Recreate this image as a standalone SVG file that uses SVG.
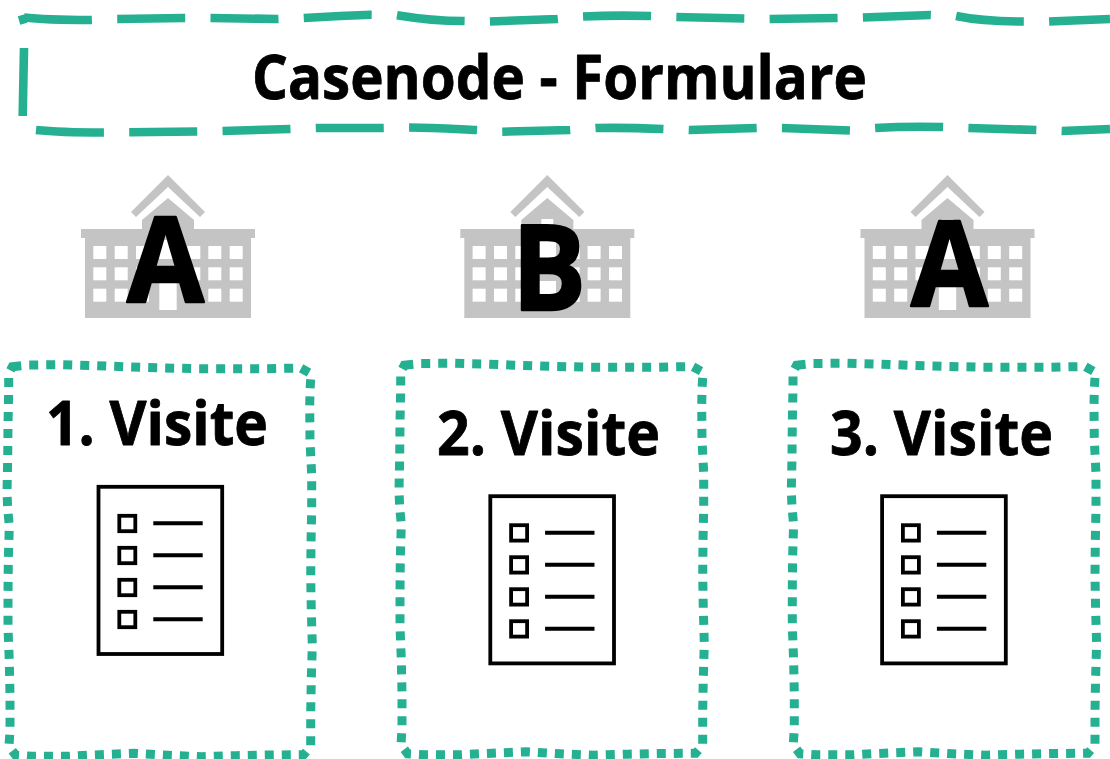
<svg xmlns="http://www.w3.org/2000/svg" xmlns:xlink="http://www.w3.org/1999/xlink" width="1110" height="759" viewBox="0 0 1110 759">
<style>
text{font-family:"Open Sans","Noto Sans","Liberation Sans",sans-serif;font-weight:700;fill:#000;stroke:#000;stroke-linejoin:round}
.title{font-size:60px;stroke-width:.8px}
.visit{font-size:60px;stroke-width:.8px}
.letter{font-size:118px;stroke-width:2.4px}
.dash{fill:none;stroke:#26b092;stroke-width:8.6}
.dot{fill:none;stroke:#26b092;stroke-width:9;stroke-dasharray:9 8}
.bld{fill:#c4c4c4}
.win{fill:#fff}
.ico{fill:none;stroke:#000;stroke-width:3.8}
.ln{fill:none;stroke:#000;stroke-width:4}
</style>
<defs>
<path id="dotbox" class="dot" d="M12.3,366.7 L29,365 L63,364.7 L97,365.7 L131,367 L165,368 L199,368.7 L267,368.7 L300.7,368 L311,373.7 L310,390.7 L309.7,407 L310,441.7 L311.7,475 L311.7,509 L311,543 L310.7,577 L311.3,610.7 L312.3,644.7 L311.3,679 L310.7,712.7 L310.7,746.7 L303.7,754.7 L270,755 L236,755.7 L202,756.7 L168.3,755.3 L134.3,753.3 L100.3,754.7 L66.7,756.3 L32.7,756.3 L15.7,755.3 L9,746.3 L10,729.7 L10,695.3 L9.3,661.3 L8,627.7 L8,594 L8.3,560 L9.3,526 L7.7,509 L7,492 L7.7,458 L8,424 L8.7,390.3 L8.7,373.7 Z"/>
<g id="building">
<path class="bld" d="M168,175 L205,212 L200,217 L168,187 L136,217 L131,212 Z"/>
<path class="bld" d="M168,198 L194,220 L194,229 L255,229 L255,238 L251,238 L251,318 L85,318 L85,238 L81,238 L81,229 L142,229 L142,220 Z"/>
<g class="win">
<rect x="93.3" y="246" width="13" height="13"/><rect x="114.7" y="246" width="13" height="13"/><rect x="136" y="246" width="13" height="13"/><rect x="187.3" y="246" width="13" height="13"/><rect x="208.3" y="246" width="13" height="13"/><rect x="229.7" y="246" width="13" height="13"/>
<rect x="93.3" y="267.3" width="13" height="13"/><rect x="114.7" y="267.3" width="13" height="13"/><rect x="136" y="267.3" width="13" height="13"/><rect x="187.3" y="267.3" width="13" height="13"/><rect x="208.3" y="267.3" width="13" height="13"/><rect x="229.7" y="267.3" width="13" height="13"/>
<rect x="93.3" y="288.7" width="13" height="13"/><rect x="114.7" y="288.7" width="13" height="13"/><rect x="136" y="288.7" width="13" height="13"/><rect x="187.3" y="288.7" width="13" height="13"/><rect x="208.3" y="288.7" width="13" height="13"/><rect x="229.7" y="288.7" width="13" height="13"/>
<rect x="159.3" y="281" width="17.4" height="29"/>
<rect x="159.3" y="240" width="17.4" height="19"/>
<rect x="162" y="219" width="12" height="9"/>
</g>
</g>
<g id="form">
<rect class="ico" x="98.5" y="486.8" width="123.7" height="167.2"/>
<rect class="ico" x="119.3" y="515.8" width="16" height="15.4"/>
<rect class="ico" x="119.3" y="547.8" width="16" height="15.4"/>
<rect class="ico" x="119.3" y="579.8" width="16" height="15.4"/>
<rect class="ico" x="119.3" y="611.8" width="16" height="15.4"/>
<path class="ln" d="M153.3,523.3 H202.7 M153.3,555.3 H202.7 M153.3,587.3 H202.7 M153.3,619.3 H202.7"/>
</g>
</defs>
<g id="title-node">
<path class="dash" d="M19,20.5 L26,18.5"/>
<path class="dash" stroke-dasharray="68 25.3" d="M24,17.5 C45,20 70,20 91,20 L116,19 L184,18 L210,18 L278,19 L303,18 L340,16 L371,14.7 L396,15 C420,19 440,21 464,21 L489,21.5 L557,19 L582,16.5 C605,15.5 630,15.5 651,16 L676,17 L744,18.5 L769,19 L837,18 L862,17.5 L930,15 L956,16 C975,20 1000,21.5 1023,21.5 L1049,21.5 L1110,19"/>
<path class="dash" stroke-dasharray="68 25.3" d="M36,130 C55,132 80,132.5 103,132.5 L129,132.3 L197,131.5 L222,131 L290,129 L316,128 L383,128 L409,127.5 C435,127.5 455,129 477,130 L502,131.7 L570,130 L596,128 C620,127.5 640,128 663,129 L689,130 L757,128 L782,128 L850,130.5 L875,128 C900,126.5 920,126.5 943,127 L969,128 L1037,130 L1062,131 L1110,129"/>
<path class="dash" d="M24,48 L22.7,116"/>
<text class="title" x="252" y="99" textLength="615" lengthAdjust="spacingAndGlyphs">Casenode - Formulare</text>
</g>
<g id="site-a1">
<use href="#building" xlink:href="#building"/>
<text class="letter" x="127" y="302" textLength="77" lengthAdjust="spacingAndGlyphs">A</text>
</g>
<g id="site-b">
<use href="#building" xlink:href="#building" x="379.3"/>
<text class="letter" x="512" y="309.5" textLength="74" lengthAdjust="spacingAndGlyphs">B</text>
</g>
<g id="site-a2">
<use href="#building" xlink:href="#building" x="779.5"/>
<text class="letter" x="911" y="305.5" textLength="77" lengthAdjust="spacingAndGlyphs">A</text>
</g>
<g id="visit-1">
<use href="#dotbox" xlink:href="#dotbox"/>
<text class="visit" x="46" y="445" textLength="222" lengthAdjust="spacingAndGlyphs">1. Visite</text>
<use href="#form" xlink:href="#form"/>
</g>
<g id="visit-2">
<use href="#dotbox" xlink:href="#dotbox" x="392" y="-1.5"/>
<text class="visit" x="437" y="455" textLength="223" lengthAdjust="spacingAndGlyphs">2. Visite</text>
<use href="#form" xlink:href="#form" x="391.8" y="9.4"/>
</g>
<g id="visit-3">
<use href="#dotbox" xlink:href="#dotbox" x="784.3" y="-1.5"/>
<text class="visit" x="830" y="455" textLength="223" lengthAdjust="spacingAndGlyphs">3. Visite</text>
<use href="#form" xlink:href="#form" x="783.6" y="9.4"/>
</g>
</svg>
